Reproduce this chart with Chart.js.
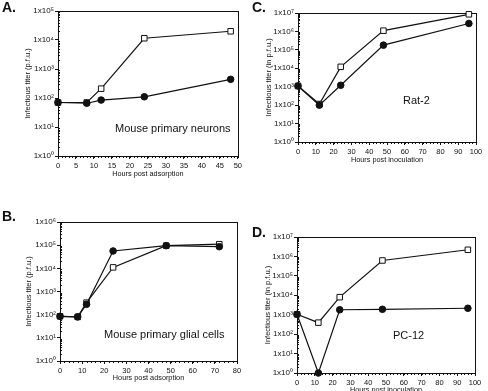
<!DOCTYPE html>
<html>
<head>
<meta charset="utf-8">
<script src="https://cdn.jsdelivr.net/npm/chart.js@4/dist/chart.umd.min.js"></script>
<style>
  html, body { margin: 0; padding: 0; background: #fff; }
  body { width: 488px; height: 391px; position: relative; overflow: hidden; font-family: "Liberation Sans", Arial, sans-serif; color: #111; }
  canvas { position: absolute; }
  .tag { position: absolute; font-weight: bold; font-size: 14px; line-height: 14px; }
  .note { position: absolute; font-size: 11px; line-height: 11px; white-space: nowrap; }
</style>
</head>
<body>
<canvas id="chartA" width="244" height="195" style="left:0;top:0"></canvas>
<canvas id="chartC" width="244" height="195" style="left:244px;top:0"></canvas>
<canvas id="chartB" width="244" height="196" style="left:0;top:195px"></canvas>
<canvas id="chartD" width="244" height="205" style="left:244px;top:195px"></canvas>

<div class="tag" style="left:2px;top:0px">A.</div>
<div class="tag" style="left:252px;top:0px">C.</div>
<div class="tag" style="left:2px;top:209px">B.</div>
<div class="tag" style="left:252px;top:225px">D.</div>

<div class="note" style="left:115px;top:123px">Mouse primary neurons</div>
<div class="note" style="left:403px;top:95px">Rat-2</div>
<div class="note" style="left:104px;top:329px">Mouse primary glial cells</div>
<div class="note" style="left:393px;top:330px">PC-12</div>

<script>
// A. mouse primary neurons
var hoursA = [0, 8, 12, 24, 48];
var neuronsOpen = [70, 70, 210, 11500, 20000];
var neuronsFilled = [70, 66, 85, 110, 440];

// B. mouse primary glial cells
var hoursB = [0, 8, 12, 24, 48, 72];
var glialOpen = [85, 80, 330, 11000, 95000, 110000];
var glialFilled = [85, 80, 280, 56000, 95000, 86000];

// C. Rat-2
var hoursC = [0, 12, 24, 48, 96];
var rat2Open = [1100, 115, 12000, 1100000, 8500000];
var rat2Filled = [1100, 100, 1200, 180000, 2700000];

// D. PC-12
var hoursD = [0, 12, 24, 48, 96];
var pc12Open = [1050, 390, 8000, 620000, 2200000];
var pc12Filled = [1050, 1, 1800, 1900, 2150];

var sup = ['\u2070', '\u00B9', '\u00B2', '\u00B3', '\u2074', '\u2075', '\u2076', '\u2077'];
var font = '"Liberation Sans", Arial, sans-serif';

function points(xs, ys) {
  return xs.map(function (x, i) { return { x: x, y: ys[i] }; });
}

// box round the plot plus the small minor tick marks
var frame = {
  id: 'frame',
  beforeDatasetsDraw: function (chart, args, opts) {
    var ctx = chart.ctx, a = chart.chartArea;
    var x = chart.scales.x, y = chart.scales.y;
    ctx.save();
    ctx.strokeStyle = '#111';
    ctx.lineWidth = 1;
    ctx.strokeRect(Math.round(a.left) + 0.5, Math.round(a.top) + 0.5,
      Math.round(a.right - a.left), Math.round(a.bottom - a.top));
    ctx.beginPath();
    for (var v = x.min; v <= x.max; v += opts.xMinor) {
      var px = Math.round(x.getPixelForValue(v)) + 0.5;
      ctx.moveTo(px, a.bottom);
      ctx.lineTo(px, a.bottom + 2);
    }
    var top = Math.round(Math.log10(y.max));
    for (var d = 0; d < top; d++) {
      for (var m = 2; m < 10; m++) {
        var py = Math.round(y.getPixelForValue(m * Math.pow(10, d))) + 0.5;
        ctx.moveTo(a.left, py);
        ctx.lineTo(a.left + 2, py);
      }
    }
    ctx.stroke();
    ctx.restore();
  }
};

function makeChart(id, p) {
  return new Chart(document.getElementById(id), {
    type: 'line',
    data: {
      datasets: [{
        data: points(p.hours, p.filled),
        borderColor: '#111',
        backgroundColor: '#111',
        borderWidth: 1.2,
        pointStyle: 'circle',
        pointRadius: 3.3,
        pointBorderWidth: 1,
        clip: false
      }, {
        data: points(p.hours, p.open),
        borderColor: '#111',
        backgroundColor: '#fff',
        borderWidth: 1.2,
        pointStyle: 'rect',
        pointRadius: 3.9,
        pointBorderWidth: 1,
        clip: false
      }]
    },
    options: {
      responsive: false,
      animation: false,
      layout: { padding: p.pad },
      plugins: {
        legend: { display: false },
        tooltip: { enabled: false },
        frame: { xMinor: p.xMinor }
      },
      scales: {
        x: {
          type: 'linear',
          min: 0,
          max: p.xMax,
          afterFit: function (s) { s.height = p.xH; },
          grid: { drawOnChartArea: false, tickLength: 3, color: '#111' },
          border: { color: '#111' },
          ticks: { stepSize: p.xStep, padding: 2, color: '#111', maxRotation: 0, font: { family: font, size: 7.5 } },
          title: { display: true, text: p.xTitle, color: '#111', padding: 0, font: { family: font, size: 7.3 } }
        },
        y: {
          type: 'logarithmic',
          min: 1,
          max: p.yMax,
          afterFit: function (s) { s.width = p.yW; },
          afterBuildTicks: function (s) {
            var t = [];
            for (var e = 0; Math.pow(10, e) <= p.yMax; e++) t.push({ value: Math.pow(10, e) });
            s.ticks = t;
          },
          grid: { drawOnChartArea: false, tickLength: 3, color: '#111' },
          border: { color: '#111' },
          ticks: {
            padding: 1,
            color: '#111',
            font: { family: font, size: 8 },
            callback: function (value) {
              return '1x10' + sup[Math.round(Math.log10(value))];
            }
          },
          title: { display: true, text: p.yTitle, color: '#111', padding: 0, font: { family: font, size: 7.5 } }
        }
      }
    },
    plugins: [frame]
  });
}

var chartA = makeChart('chartA', {
  hours: hoursA, open: neuronsOpen, filled: neuronsFilled,
  xMax: 50, xStep: 5, xMinor: 1, yMax: 1e5,
  xTitle: 'Hours post adsorption', yTitle: 'Infectious titer (p.f.u.)',
  pad: { left: 23, top: 11, right: 6, bottom: 17 }, yW: 35, xH: 22
});

var chartC = makeChart('chartC', {
  hours: hoursC, open: rat2Open, filled: rat2Filled,
  xMax: 100, xStep: 10, xMinor: 2, yMax: 1e7,
  xTitle: 'Hours post inoculation', yTitle: 'Infectious titer (in p.f.u.)',
  pad: { left: 20, top: 13, right: 12, bottom: 31 }, yW: 34, xH: 22
});

var chartB = makeChart('chartB', {
  hours: hoursB, open: glialOpen, filled: glialFilled,
  xMax: 80, xStep: 10, xMinor: 2, yMax: 1e6,
  xTitle: 'Hours post adsorption', yTitle: 'Infectious titer (p.f.u.)',
  pad: { left: 24, top: 27, right: 7, bottom: 9 }, yW: 36, xH: 21
});

var chartD = makeChart('chartD', {
  hours: hoursD, open: pc12Open, filled: pc12Filled,
  xMax: 100, xStep: 10, xMinor: 2, yMax: 1e7,
  xTitle: 'Hours post inoculation', yTitle: 'Infectious titer (in p.f.u.)',
  pad: { left: 19, top: 42, right: 13, bottom: 6 }, yW: 34, xH: 21
});
</script>
</body>
</html>
